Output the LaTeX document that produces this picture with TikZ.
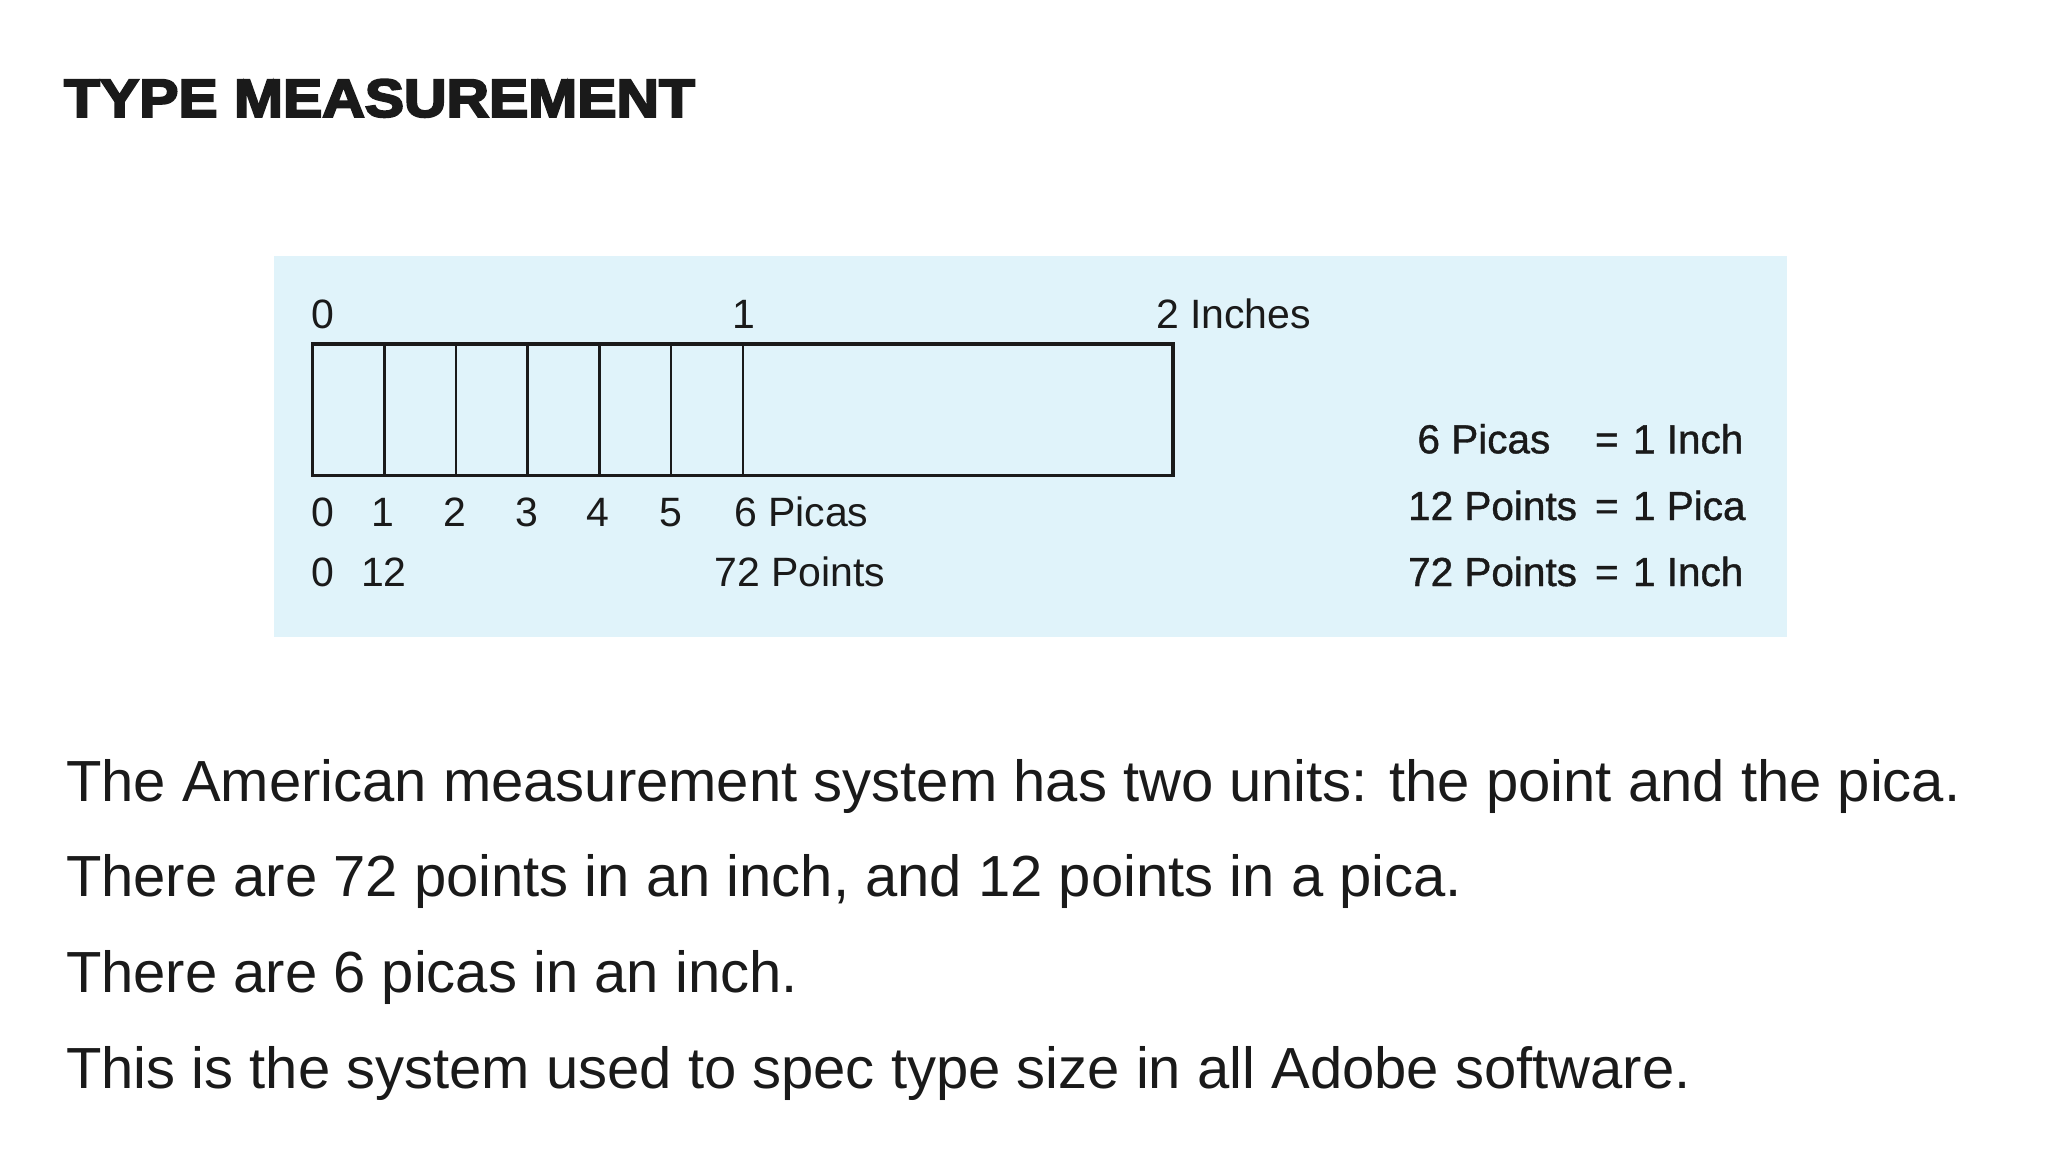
\documentclass[tikz,border=0pt]{standalone}
\usepackage{fontspec}
\setmainfont{Liberation Sans}
\newfontfamily\titlefont[FakeStretch=1.1,FakeBold=4]{Liberation Sans Bold}
\newfontfamily\eqnfont[FakeBold=1]{Liberation Sans}
\definecolor{panelblue}{HTML}{E0F3FA}
\definecolor{ink}{HTML}{1A1A1A}
\tikzset{
  lbl/.style={inner sep=0pt, outer sep=0pt, text=ink, font=\fontsize{41}{44}\selectfont},
  eqn/.style={inner sep=0pt, outer sep=0pt, text=ink, font=\eqnfont\fontsize{40.5}{44}\selectfont},
  body/.style={inner sep=0pt, outer sep=0pt, text=ink, font=\fontsize{58}{62}\selectfont, anchor=base west},
  ttl/.style={inner sep=0pt, outer sep=0pt, text=ink, font=\titlefont\fontsize{53.5}{56}\selectfont, anchor=base west},
  rulerline/.style={draw=ink, line width=2.6pt},
  rulerbox/.style={draw=ink, line width=3.2pt}
}
\begin{document}
\begin{tikzpicture}[x=1pt,y=-1pt]
\useasboundingbox[fill=white] (0,0) rectangle (2048,1152);
% title
\node[ttl] (title) at (64,116.7) {TYPE MEASUREMENT};
% panel
\fill[panelblue] (274,256) rectangle (1787,637);
% ruler
\coordinate (rtl) at (312.6,344);
\coordinate (rbr) at (1173,475.7);
\foreach \k in {1,...,6}{
  \draw[rulerline] ({312.6+\k*71.7},344) -- ({312.6+\k*71.7},475.7);
}
\draw[rulerbox] (rtl) rectangle (rbr);
% top labels
\node[lbl, anchor=base west] (t0) at (311,328) {0};
\node[lbl, anchor=base] (t1) at (743.5,328) {1};
\node[lbl, anchor=base west] (t2) at (1156,328) {2 Inches};
% picas row
\node[lbl, anchor=base west] (p0) at (311,526.7) {0};
\node[lbl, anchor=base] (p1) at (382.5,526.7) {1};
\node[lbl, anchor=base] (p2) at (455,526.7) {2};
\node[lbl, anchor=base] (p3) at (526.5,526.7) {3};
\node[lbl, anchor=base] (p4) at (598,526.7) {4};
\node[lbl, anchor=base] (p5) at (670.5,526.7) {5};
\node[lbl, anchor=base west] (p6) at (734,526.7) {6 Picas};
% points row
\node[lbl, anchor=base west] (q0) at (311,586.7) {0};
\node[lbl, anchor=base] (q1) at (384,586.7) {12};
\node[lbl, anchor=base west] (q2) at (714.5,586.7) {72 Points};
% equations
\node[eqn, anchor=base west] (e1l) at (1417.5,453.3) {6 Picas};
\node[eqn, anchor=base west] (e1m) at (1595,453.3) {=};
\node[eqn, anchor=base west] (e1r) at (1633,453.3) {1 Inch};
\node[eqn, anchor=base east] (e2l) at (1577,520) {12 Points};
\node[eqn, anchor=base west] (e2m) at (1595,520) {=};
\node[eqn, anchor=base west] (e2r) at (1633,520) {1 Pica};
\node[eqn, anchor=base east] (e3l) at (1577,586) {72 Points};
\node[eqn, anchor=base west] (e3m) at (1595,586) {=};
\node[eqn, anchor=base west] (e3r) at (1633,586) {1 Inch};
% body text
\node[body] (b1) at (66,801) {The American measurement system has two units: the point and the pica.};
\node[body] (b2) at (66,896.7) {There are 72 points in an inch, and 12 points in a pica.};
\node[body] (b3) at (66,992.3) {There are 6 picas in an inch.};
\node[body] (b4) at (66,1088.3) {This is the system used to spec type size in all Adobe software.};
\end{tikzpicture}
\end{document}
